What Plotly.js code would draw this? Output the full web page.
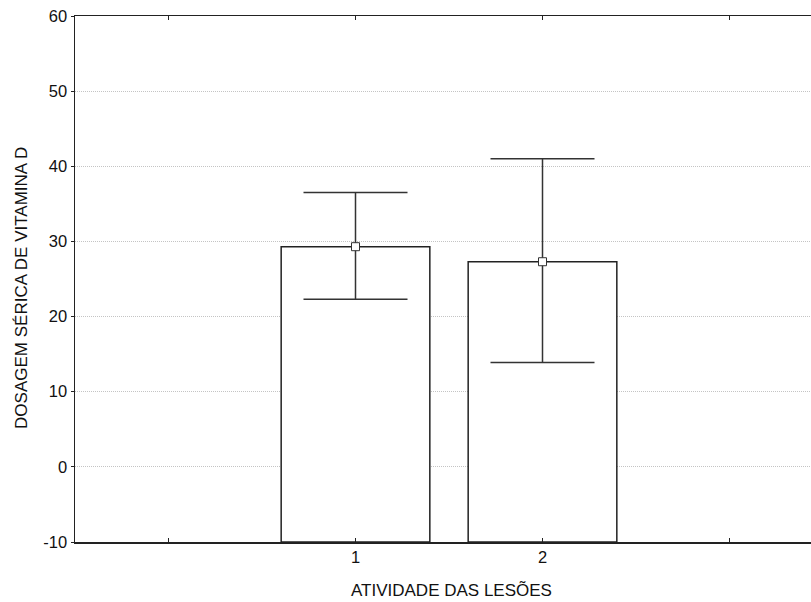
<!DOCTYPE html>
<html><head><meta charset="utf-8">
<script src="https://cdn.plot.ly/plotly-3.0.1.min.js"></script>
<style>html,body{margin:0;padding:0;overflow:hidden;background:#fff;}#chart{width:830px;height:602px;}</style>
</head><body><div id="chart"></div>
<script>
const categories = [1, 2];
const means = [29.3, 27.3];
const upper = [36.5, 41.0];
const lower = [22.3, 13.9];
const xTickVals = [0, 1, 2, 3];
const xTickText = ['', '1', '2', ''];
const yTickVals = [-10, 0, 10, 20, 30, 40, 50, 60];
const yTickText = ['-10', '0', '10', '20', '30', '40', '50', '60'];
const xTitle = 'ATIVIDADE DAS LESÕES';
const yTitle = 'DOSAGEM SÉRICA DE VITAMINA D';

const family = 'Liberation Sans, Arial, sans-serif';
const tickFont = {family: family, size: 16.5, color: '#111'};
const titleFont = {family: family, size: 17, color: '#111'};

const bars = {
  type: 'bar', x: categories, y: means.map(v => v + 10), base: -10,
  width: 0.795,
  marker: {color: '#fff', line: {color: '#222', width: 1.5}},
  hoverinfo: 'skip', showlegend: false
};
const errs = {
  type: 'scatter', mode: 'markers', x: categories, y: means,
  marker: {symbol: 'square', size: 8, color: '#fff', line: {color: '#333', width: 1}},
  error_y: {type: 'data', symmetric: false,
    array: upper.map((u, i) => u - means[i]),
    arrayminus: lower.map((l, i) => means[i] - l),
    color: '#333', thickness: 1.5, width: 52},
  showlegend: false
};
const layout = {
  width: 830, height: 602,
  margin: {l: 75, r: 7, t: 16, b: 60},
  paper_bgcolor: '#fff', plot_bgcolor: '#fff',
  font: tickFont,
  xaxis: {range: [-0.5, 3.5], tickmode: 'array', tickvals: xTickVals, ticktext: xTickText,
    ticks: 'inside', ticklen: 4, tickcolor: '#222', showline: true, linecolor: '#222', linewidth: 1.5,
    mirror: 'ticks', showgrid: false, zeroline: false, tickfont: tickFont},
  yaxis: {range: [-10, 60], tickmode: 'array', tickvals: yTickVals, ticktext: yTickText,
    ticks: 'outside', ticklen: 3, tickcolor: '#222', showline: true, linecolor: '#222', linewidth: 1.5,
    showgrid: true, gridcolor: '#c4c4c4', griddash: '1px,1px', gridwidth: 1, zeroline: false,
    tickfont: tickFont},
  annotations: [
    {text: xTitle, xref: 'paper', yref: 'paper', x: 0.504, y: -0.092, xanchor: 'center', yanchor: 'middle',
      showarrow: false, font: titleFont},
    {text: yTitle, xref: 'paper', yref: 'paper', x: -0.0709, y: 0.483, xanchor: 'center', yanchor: 'middle',
      textangle: -90, showarrow: false, font: titleFont}
  ],
  bargap: 0
};
Plotly.newPlot('chart', [bars, errs], layout, {staticPlot: true, responsive: false});
</script></body></html>
